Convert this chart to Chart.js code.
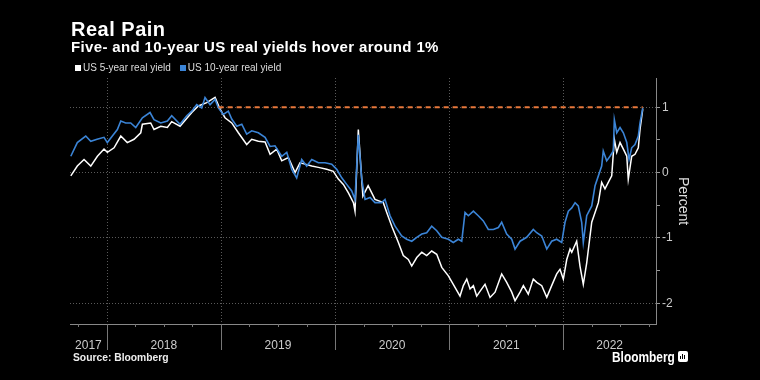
<!DOCTYPE html>
<html>
<head>
<meta charset="utf-8">
<script src="https://cdn.jsdelivr.net/npm/chart.js@4/dist/chart.umd.min.js"></script>
<style>
  html, body { margin: 0; padding: 0; background: #000; }
  #wrap { position: relative; width: 760px; height: 380px; background: #000; overflow: hidden; font-family: "Liberation Sans", Arial, sans-serif; }
  #c { position: absolute; left: 0; top: 0; }
  .t { position: absolute; color: #fff; white-space: nowrap; }
  #title { left: 71px; top: 18px; font-size: 20px; font-weight: bold; letter-spacing: 0.5px; }
  #sub { left: 71px; top: 38px; font-size: 15px; font-weight: bold; letter-spacing: 0.35px; }
  #legend { left: 75px; top: 62px; font-size: 10px; color: #ddd; }
  #legend span.sw { display: inline-block; width: 6px; height: 6px; margin-right: 2px; vertical-align: 0px; }
  #legend span.it { margin-right: 9px; }
  #src { left: 73px; top: 352px; font-size: 10.3px; font-weight: bold; color: #eee; }
  #logo { left: 612px; top: 349px; font-size: 14px; font-weight: bold; color: #fff; transform: scaleX(0.85); transform-origin: left top; }
  #icon { position: absolute; left: 678px; top: 351px; width: 10px; height: 11px; background: #fff; border-radius: 2px; }
  #icon i { position: absolute; bottom: 3px; width: 1px; background: #000; }
</style>
</head>
<body>
<div id="wrap">
  <canvas id="c" width="760" height="380"></canvas>
  <div class="t" id="title">Real Pain</div>
  <div class="t" id="sub">Five- and 10-year US real yields hover around 1%</div>
  <div class="t" id="legend"><span class="sw" style="background:#fff"></span><span class="it">US 5-year real yield</span><span class="sw" style="background:#3b84d6"></span><span class="it">US 10-year real yield</span></div>
  <div class="t" id="src">Source: Bloomberg</div>
  <div class="t" id="logo">Bloomberg</div>
  <div id="icon"><i style="left:2px;height:3px"></i><i style="left:4px;height:5px"></i><i style="left:6px;height:4px"></i></div>
</div>
<script>
// ---- data (decimal years, percent) ----
const dates5 = [2017.685,2017.742,2017.801,2017.860,2017.918,2017.976,2018.005,2018.064,2018.123,2018.180,2018.239,2018.298,2018.312,2018.385,2018.414,2018.473,2018.531,2018.569,2018.642,2018.745,2018.802,2018.876,2018.949,2018.993,2019.036,2019.095,2019.153,2019.226,2019.270,2019.328,2019.387,2019.431,2019.489,2019.533,2019.591,2019.650,2019.693,2019.737,2019.796,2019.854,2019.927,2019.985,2020.029,2020.073,2020.117,2020.161,2020.175,2020.204,2020.244,2020.290,2020.350,2020.423,2020.453,2020.497,2020.555,2020.598,2020.642,2020.672,2020.716,2020.760,2020.803,2020.847,2020.891,2020.935,2020.993,2021.036,2021.095,2021.124,2021.154,2021.183,2021.212,2021.241,2021.285,2021.314,2021.358,2021.402,2021.460,2021.504,2021.548,2021.577,2021.621,2021.650,2021.693,2021.737,2021.767,2021.811,2021.855,2021.898,2021.942,2021.971,2022.000,2022.030,2022.059,2022.074,2022.117,2022.146,2022.175,2022.205,2022.249,2022.278,2022.307,2022.336,2022.365,2022.394,2022.424,2022.447,2022.468,2022.497,2022.526,2022.556,2022.569,2022.599,2022.628,2022.657,2022.672,2022.696];
const yield5 = [-0.05,0.10,0.20,0.10,0.25,0.36,0.31,0.38,0.56,0.46,0.51,0.61,0.74,0.76,0.66,0.71,0.69,0.78,0.71,0.92,1.02,1.07,1.15,0.97,0.84,0.76,0.61,0.43,0.51,0.48,0.47,0.28,0.36,0.18,0.23,0.00,0.15,0.13,0.10,0.08,0.05,0.02,-0.10,-0.18,-0.31,-0.46,-0.59,0.66,-0.36,-0.20,-0.41,-0.46,-0.61,-0.82,-1.07,-1.27,-1.33,-1.43,-1.30,-1.22,-1.27,-1.20,-1.25,-1.45,-1.58,-1.71,-1.89,-1.73,-1.63,-1.78,-1.73,-1.89,-1.78,-1.71,-1.91,-1.83,-1.55,-1.68,-1.83,-1.96,-1.83,-1.73,-1.86,-1.63,-1.68,-1.73,-1.91,-1.73,-1.55,-1.48,-1.63,-1.33,-1.17,-1.22,-1.05,-1.43,-1.71,-1.38,-0.76,-0.61,-0.46,-0.15,-0.25,-0.15,-0.05,0.51,0.31,0.46,0.36,0.25,-0.10,0.25,0.28,0.38,0.66,0.97];

const dates10 = [2017.685,2017.742,2017.816,2017.860,2017.915,2017.976,2018.005,2018.049,2018.093,2018.123,2018.166,2018.210,2018.254,2018.312,2018.379,2018.414,2018.473,2018.531,2018.569,2018.642,2018.701,2018.745,2018.788,2018.832,2018.861,2018.905,2018.949,2018.978,2019.021,2019.065,2019.095,2019.139,2019.183,2019.226,2019.270,2019.328,2019.387,2019.431,2019.474,2019.533,2019.577,2019.621,2019.664,2019.708,2019.752,2019.796,2019.854,2019.912,2019.971,2020.015,2020.059,2020.102,2020.146,2020.175,2020.204,2020.234,2020.263,2020.307,2020.350,2020.409,2020.438,2020.482,2020.526,2020.584,2020.628,2020.672,2020.716,2020.760,2020.803,2020.847,2020.891,2020.935,2020.993,2021.036,2021.080,2021.110,2021.139,2021.168,2021.212,2021.255,2021.299,2021.343,2021.387,2021.431,2021.460,2021.504,2021.548,2021.577,2021.621,2021.679,2021.737,2021.767,2021.811,2021.855,2021.898,2021.942,2021.986,2022.015,2022.044,2022.074,2022.103,2022.131,2022.161,2022.175,2022.205,2022.249,2022.278,2022.307,2022.336,2022.350,2022.380,2022.409,2022.438,2022.447,2022.468,2022.497,2022.526,2022.556,2022.576,2022.599,2022.628,2022.657,2022.672,2022.696];
const yield10 = [0.25,0.46,0.56,0.48,0.51,0.54,0.46,0.56,0.66,0.79,0.76,0.76,0.69,0.84,0.92,0.81,0.76,0.79,0.87,0.74,0.87,0.94,1.04,0.99,1.15,1.04,1.12,0.99,0.89,0.94,0.82,0.71,0.74,0.59,0.64,0.61,0.54,0.40,0.41,0.25,0.31,0.05,-0.08,0.20,0.10,0.20,0.15,0.15,0.13,0.05,-0.08,-0.18,-0.28,-0.41,0.58,-0.10,-0.41,-0.38,-0.46,-0.46,-0.41,-0.66,-0.82,-0.97,-1.02,-1.05,-0.99,-0.94,-0.92,-0.82,-0.89,-0.99,-1.02,-1.07,-1.02,-1.05,-0.61,-0.66,-0.59,-0.66,-0.74,-0.87,-0.87,-0.84,-0.76,-0.94,-1.02,-1.17,-1.05,-0.99,-0.87,-0.92,-0.97,-1.17,-1.05,-1.02,-1.07,-0.76,-0.59,-0.54,-0.46,-0.51,-0.76,-1.07,-0.66,-0.51,-0.20,-0.05,0.10,0.33,0.18,0.25,0.33,0.81,0.61,0.69,0.61,0.46,0.20,0.38,0.43,0.56,0.76,0.99];

const refDates = [2018.98, 2022.696];
const refValues = [1, 1];

const years = [2017, 2018, 2019, 2020, 2021, 2022];
const yTicks = [-2, -1.5, -1, -0.5, 0, 0.5, 1];
const xMin = 2017.678, xMax = 2022.812;
const yMin = -2.317, yMax = 1.448;

const pts = (xs, ys) => xs.map((x, i) => ({x, y: ys[i]}));

const yearLines = {
  id: 'yearLines',
  beforeDatasetsDraw(chart) {
    const {ctx, chartArea: {top, bottom}, scales: {x}} = chart;
    ctx.save();
    ctx.lineWidth = 1;
    ctx.strokeStyle = '#5a5a5a';
    ctx.setLineDash([1, 2]);
    years.forEach(yr => {
      if (yr <= xMin) return;
      const px = Math.round(x.getPixelForValue(yr)) + 0.5;
      ctx.beginPath(); ctx.moveTo(px, top); ctx.lineTo(px, bottom); ctx.stroke();
    });
    ctx.restore();
  },
  afterDraw(chart) {
    const {ctx, chartArea: {bottom}, scales: {x}} = chart;
    ctx.save();
    ctx.lineWidth = 1;
    ctx.strokeStyle = '#777';
    years.forEach(yr => {
      if (yr <= xMin) return;
      const px = Math.round(x.getPixelForValue(yr)) + 0.5;
      ctx.beginPath(); ctx.moveTo(px, bottom); ctx.lineTo(px, bottom + 26); ctx.stroke();
    });
    for (let q = Math.ceil(xMin * 4) / 4; q < xMax; q += 0.25) {
      if (Number.isInteger(q)) continue;
      const px = Math.round(x.getPixelForValue(q)) + 0.5;
      ctx.beginPath(); ctx.moveTo(px, bottom); ctx.lineTo(px, bottom + 3); ctx.stroke();
    }
    ctx.restore();
  }
};

new Chart(document.getElementById('c'), {
  type: 'line',
  data: {
    datasets: [
      { label: 'US 5-year real yield', data: pts(dates5, yield5), borderColor: '#ffffff', borderWidth: 1.5, pointRadius: 0, tension: 0, order: 1 },
      { label: 'US 10-year real yield', data: pts(dates10, yield10), borderColor: '#3b84d6', borderWidth: 1.6, pointRadius: 0, tension: 0, order: 0 },
      { label: 'ref', data: pts(refDates, refValues), borderColor: '#e8773a', borderWidth: 2, borderDash: [5, 4], pointRadius: 0, order: -1 }
    ]
  },
  options: {
    responsive: false,
    animation: false,
    events: [],
    layout: { padding: { left: 70, top: 78, right: 64, bottom: 26 } },
    plugins: { legend: { display: false }, tooltip: { enabled: false } },
    scales: {
      x: {
        type: 'linear', min: xMin, max: xMax, position: 'bottom',
        grid: { display: false },
        border: { display: true, color: '#888', width: 1 },
        afterBuildTicks(scale) {
          scale.ticks = years.map(yr => ({ value: (Math.max(yr, xMin) + Math.min(yr + 1, xMax)) / 2 }));
        },
        ticks: {
          color: '#ccc', font: { family: 'Liberation Sans', size: 12 }, padding: 6, maxRotation: 0, autoSkip: false,
          callback(v, i) { return String(years[i]); }
        },
        afterFit(scale) { scale.height = 30; }
      },
      y: {
        type: 'linear', min: yMin, max: yMax, position: 'right',
        afterBuildTicks(scale) { scale.ticks = yTicks.map(v => ({ value: v })); },
        grid: {
          color: c => (c.tick && Number.isInteger(c.tick.value)) ? '#5a5a5a' : 'rgba(0,0,0,0)',
          tickColor: '#999', tickLength: 4, tickBorderDash: [], drawOnChartArea: true
        },
        border: { display: true, color: '#888', width: 1, dash: [1, 2] },
        ticks: {
          color: '#ccc', font: { family: 'Liberation Sans', size: 12 }, padding: 2, autoSkip: false,
          callback(v) { return Number.isInteger(v) ? String(v) : ''; }
        },
        title: { display: true, text: 'Percent', color: '#ddd', font: { family: 'Liberation Sans', size: 14 }, padding: { top: 5, bottom: 0 } },
        afterFit(scale) { scale.width = 40; }
      }
    }
  },
  plugins: [yearLines]
});
</script>
</body>
</html>
